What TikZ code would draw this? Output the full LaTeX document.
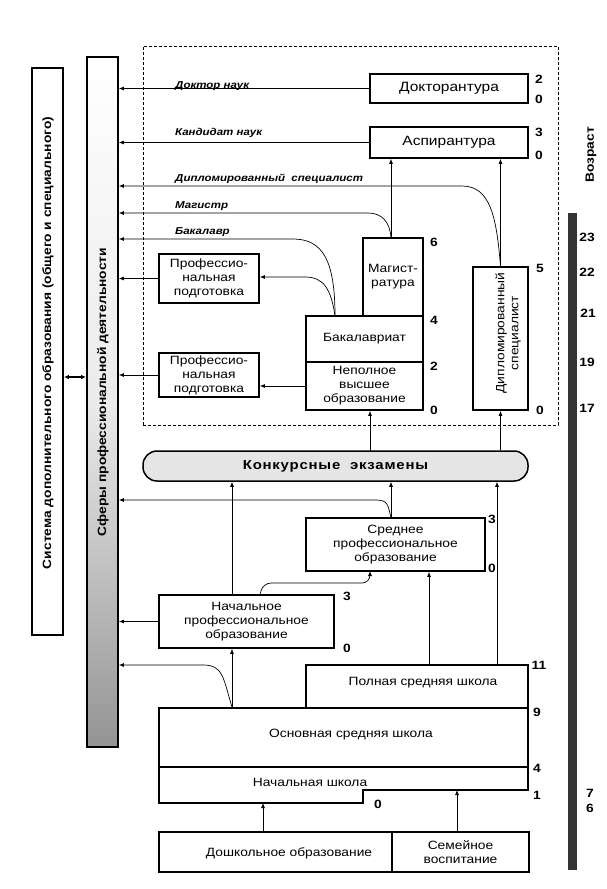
\documentclass[tikz,border=0pt]{standalone}
\usepackage{fontspec}
\setmainfont[FakeStretch=1.15]{Liberation Sans}
\usetikzlibrary{arrows.meta,calc}
\begin{document}
\begin{tikzpicture}[x=1pt,y=-1pt,
  box/.style={draw,line width=1.8pt,align=center,inner sep=0pt,font=\fontsize{12}{14}\selectfont},
  conn/.style={line width=0.7pt,-{Latex[length=5pt,width=4pt]}},
  num/.style={font=\fontsize{12}{12}\selectfont\bfseries,inner sep=0pt},
  deg/.style={font=\fontsize{10}{11}\selectfont\bfseries\itshape,inner sep=0pt,anchor=base west},
  vtext/.style={rotate=90,font=\fontsize{12}{14}\selectfont\bfseries,inner sep=0pt}
]
\useasboundingbox (0,0) rectangle (607,889);

% left bars
\node[draw,line width=1.8pt,minimum width=31pt,minimum height=567pt,inner sep=0pt] (sys) at (47.5,351.5) {};
\node[vtext] (syst) at (48,343) {Система дополнительного образования (общего и специального)};
\node[draw,line width=1.8pt,minimum width=31pt,minimum height=690pt,inner sep=0pt,
      top color=white,bottom color=black!42,middle color=white!92!black] (sfery) at (102.5,402) {};
\node[vtext] (sferyt) at (103,392) {Сферы профессиональной деятельности};

% age bar
\node[fill=black!80,minimum width=9pt,minimum height=657pt,inner sep=0pt] (age) at (572.5,541.5) {};
\node[rotate=90,font=\fontsize{12}{12}\selectfont\bfseries,inner sep=0pt] (vozr) at (591,155) {Возраст};

% university dashed frame
\node[draw,densely dashed,line width=0.7pt,minimum width=415pt,minimum height=379pt,inner sep=0pt] (uni) at (350.5,235.5) {};

% boxes
\node[box,minimum width=158pt,minimum height=29pt,font=\fontsize{13.5}{15}\selectfont] (dok) at (449,88.5) {Докторантура};
\node[box,minimum width=158pt,minimum height=31pt,font=\fontsize{13.5}{15}\selectfont] (asp) at (449,142.5) {Аспирантура};
\node[box,minimum width=60pt,minimum height=78pt] (mag) at (393,277) {Магист-\\ратура};
\node[box,minimum width=117pt,minimum height=46pt] (bak) at (364.5,339) {Бакалавриат};
\node[box,minimum width=117pt,minimum height=48pt] (nepol) at (364.5,386) {Неполное\\высшее\\образование};
\node[box,minimum width=55pt,minimum height=143pt] (dipl) at (500.5,338.5) {};
\node[rotate=90,align=center,inner sep=0pt,font=\fontsize{12}{14}\selectfont] (diplt) at (508,333) {Дипломированный\\специалист};
\node[box,minimum width=100pt,minimum height=49pt] (pp1) at (209,278.5) {Профессио-\\нальная\\подготовка};
\node[box,minimum width=100pt,minimum height=44pt] (pp2) at (209,375) {Профессио-\\нальная\\подготовка};

\node[draw,line width=1.5pt,rounded corners=14pt,minimum width=385pt,minimum height=30pt,inner sep=0pt,
      fill=black!10,font=\fontsize{13}{14}\selectfont\bfseries\addfontfeature{LetterSpace=6}] (konk) at (335.5,466) {Конкурсные\ \ экзамены};

\node[box,minimum width=179pt,minimum height=53pt] (spo) at (395.5,544.5) {Среднее\\профессиональное\\образование};
\node[box,minimum width=175pt,minimum height=53pt] (npo) at (246.5,621.5) {Начальное\\профессиональное\\образование};

% school
\node[draw,line width=1.8pt,minimum width=222pt,minimum height=43pt,inner sep=0pt] (poln) at (417,686.5) {};
\node[font=\fontsize{12}{14}\selectfont,inner sep=0pt] (polnt) at (423,683) {Полная средняя школа};
\node[draw,line width=1.8pt,minimum width=369pt,minimum height=59pt,inner sep=0pt] (osn) at (343.5,737.5) {};
\node[font=\fontsize{12}{14}\selectfont,inner sep=0pt] (osnt) at (351,735) {Основная средняя школа};
\draw[line width=1.8pt] (159,767) -- (528,767) -- (528,790) -- (363,790) -- (363,803) -- (159,803) -- cycle;
\node[font=\fontsize{12}{14}\selectfont,inner sep=0pt] (nacht) at (310,782) {Начальная школа};
\coordinate (nachbotL) at (263,803);
\coordinate (nachbotR) at (457,790);
\node[box,minimum width=233pt,minimum height=40pt] (dosh) at (275.5,852) {};
\node[font=\fontsize{12}{14}\selectfont,inner sep=0pt] (dosht) at (289,853) {Дошкольное образование};
\node[box,minimum width=137pt,minimum height=40pt] (sem) at (460.5,852) {Семейное\\воспитание};

% degree labels
\node[deg] (ldok) at (175,88) {Доктор наук};
\node[deg] (lkand) at (175,135) {Кандидат наук};
\node[deg] (ldipl) at (175,181) {Дипломированный\ \ специалист};
\node[deg] (lmag) at (175,208) {Магистр};
\node[deg] (lbak) at (175,234) {Бакалавр};

% connectors to the professional sphere bar
\draw[conn] (dok.west) -- (dok.west -| sfery.east);
\draw[conn] (asp.west) -- (asp.west -| sfery.east);
\coordinate (d1) at (462,186);
\draw[conn] (dipl.north) .. controls +(-4,-50) and +(28,0) .. (d1) -- (d1 -| sfery.east);
\coordinate (magtop) at (391,238);
\coordinate (m1) at (368,213);
\draw[conn] (magtop) .. controls +(-1,-16) and +(14,0) .. (m1) -- (m1 -| sfery.east);
\coordinate (baktop) at (335,316);
\coordinate (b1) at (293,239);
\draw[conn] (baktop) .. controls +(0,-55) and +(30,0) .. (b1) -- (b1 -| sfery.east);
\coordinate (p1) at (305,277);
\draw[conn] (baktop) .. controls +(-4,-28) and +(18,0) .. (p1) -- (p1 -| pp1.east);
\draw[conn] (pp1.west) -- (pp1.west -| sfery.east);
\draw[conn] (nepol.west) -- (nepol.west -| pp2.east);
\draw[conn] (pp2.west) -- (pp2.west -| sfery.east);

% inside university
\draw[conn] (magtop) -- (magtop |- asp.south);
\draw[conn] (dipl.north) -- (dipl.north |- asp.south);

% from exams
\coordinate (k1) at (370,451);
\draw[conn] (k1) -- (k1 |- nepol.south);
\draw[conn] (konk.north -| dipl.south) -- (dipl.south);

% lower levels
\coordinate (x232) at (232,0);
\coordinate (x429) at (429,0);
\coordinate (x497) at (497,0);
\draw[conn] (osn.north -| x232) -- (npo.south -| x232);
\draw[conn] (npo.north -| x232) -- (konk.south -| x232);
\coordinate (o1) at (203,665);
\draw[conn] (osn.north -| x232) .. controls +(-9,-30) and +(20,0) .. (o1) -- (o1 -| sfery.east);
\draw[conn] (npo.west) -- (npo.west -| sfery.east);

\coordinate (n1) at (260,595);
\coordinate (n2) at (370,571);
\draw[conn,rounded corners=8pt] (n1) -- (263,583) -- (370,583) -- (n2);
\coordinate (spotop) at (391,518);
\coordinate (s2) at (376,500);
\draw[conn] (spotop) .. controls +(-3,-13) and +(12,0) .. (s2) -- (s2 -| sfery.east);
\draw[conn] (spotop) -- (spotop |- konk.south);
\draw[conn] (poln.north -| x429) -- (spo.south -| x429);
\draw[conn] (poln.north -| x497) -- (konk.south -| x497);

\draw[conn] (dosh.north -| nachbotL) -- (nachbotL);
\draw[conn] (sem.north -| nachbotR) -- (nachbotR);

\coordinate (y377) at (0,377);
\draw[line width=1.4pt,{Latex[length=5pt,width=4.5pt]}-{Latex[length=5pt,width=4.5pt]}] (sys.east |- y377) -- (sfery.west |- y377);

% duration numbers
\node[num] (n2a) at (539,79) {2};
\node[num] (n0a) at (539,99) {0};
\node[num] (n3b) at (539,132) {3};
\node[num] (n0b) at (539,155) {0};
\node[num] (n6) at (434,242) {6};
\node[num] (n4) at (434,320) {4};
\node[num] (n2c) at (434,366) {2};
\node[num] (n0c) at (434,410) {0};
\node[num] (n5) at (540,268) {5};
\node[num] (n0d) at (540,410) {0};
\node[num] (n3e) at (492,519) {3};
\node[num] (n0e) at (492,568) {0};
\node[num] (n3f) at (347,596) {3};
\node[num] (n0f) at (347,648) {0};
\node[num] (n11) at (539,665) {11};
\node[num] (n9) at (537,712) {9};
\node[num] (n4s) at (537,768) {4};
\node[num] (n1s) at (537,795) {1};
\node[num] (n0s) at (378,804) {0};

% ages
\node[num] (a23) at (587,237) {23};
\node[num] (a22) at (587,272) {22};
\node[num] (a21) at (588,313) {21};
\node[num] (a19) at (587,362) {19};
\node[num] (a17) at (587,408) {17};
\node[num] (a7) at (590,793) {7};
\node[num] (a6) at (590,808) {6};
\end{tikzpicture}
\end{document}
